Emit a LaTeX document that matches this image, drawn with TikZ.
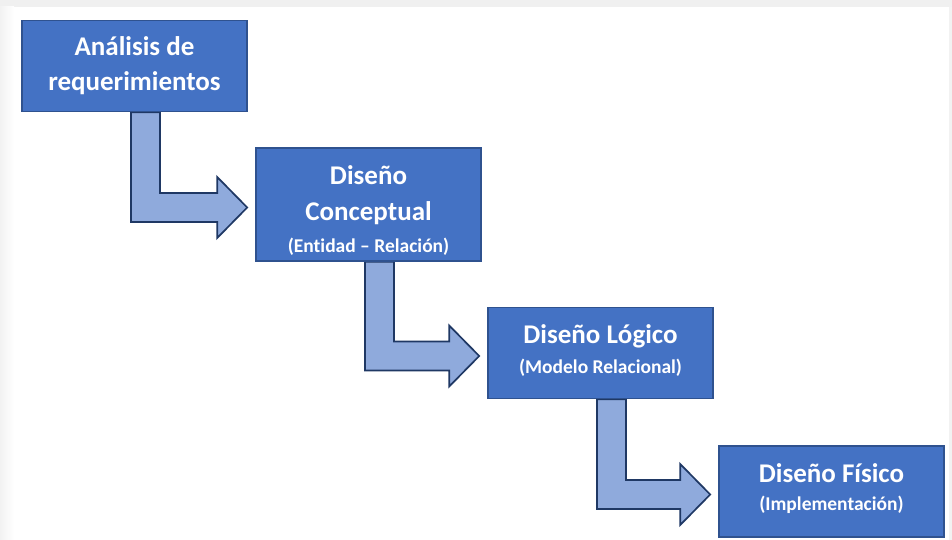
\documentclass[tikz,border=0pt]{standalone}
\usepackage{fontspec}
\setmainfont{Carlito}[Ligatures=CommonOff]
\usetikzlibrary{calc}
\definecolor{boxfill}{HTML}{4472C4}
\definecolor{boxline}{HTML}{2F528F}
\definecolor{arrfill}{HTML}{8FAADC}
\definecolor{arrline}{HTML}{1F3864}
\pgfdeclarelayer{bg}
\pgfdeclarelayer{arrows}
\pgfsetlayers{bg,arrows,main}
\tikzset{
  stage/.style={draw=boxline, line width=1.6pt, fill=boxfill, text=white,
    font=\bfseries\fontsize{27}{35}\selectfont, align=center,
    minimum width=225pt, inner sep=0pt},
  flow/.style={draw=arrline, line width=1.7pt, fill=arrfill, line join=miter}
}
\newcommand{\subtxt}[1]{{\fontsize{19.5}{24}\selectfont #1}}
\newcommand{\elbow}[2]{%
  \draw[flow] let \p1=(#1.south), \p2=(#1.center), \p3=(#2.west) in
    (\x2-3.5pt,\y1) -- (\x2+25.5pt,\y1) -- (\x2+25.5pt,\y3+11.5pt)
    -- (\x3-38pt,\y3+11.5pt) -- (\x3-38pt,\y3+27.5pt) -- (\x3-8pt,\y3-3pt)
    -- (\x3-38pt,\y3-33.5pt) -- (\x3-38pt,\y3-17.5pt) -- (\x2-3.5pt,\y3-17.5pt) -- cycle;}
\begin{document}
\begin{tikzpicture}[x=1pt,y=-1pt]
  \begin{pgfonlayer}{bg}
    \fill[white] (0,0) rectangle (952,540);
    \fill[gray!12] (0,0) rectangle (952,7);
    \shade[left color=gray!10, right color=white] (0,7) rectangle (14,540);
    \fill[gray!10] (949,7) rectangle (952,540);
  \end{pgfonlayer}
  \node[stage, minimum height=91pt] (a) at (134.5,66) {Análisis de\\requerimientos};
  \node[stage, minimum height=113pt] (b) at (368.5,204.5)
    {\rule{0pt}{30pt}Diseño\\[1pt]Conceptual\\[-3pt]\subtxt{(Entidad – Relación)}};
  \node[stage, minimum height=91pt] (c) at (600.5,353)
    {Diseño Lógico\\[-5pt]\subtxt{(Modelo Relacional)\rule[-8pt]{0pt}{1pt}}};
  \node[stage, minimum height=91pt] (d) at (831.5,491.5)
    {Diseño Físico\\[-7pt]\subtxt{(Implementación)\rule[-9pt]{0pt}{1pt}}};
  \begin{pgfonlayer}{arrows}
    \elbow{a}{b}
    \elbow{b}{c}
    \elbow{c}{d}
  \end{pgfonlayer}
\end{tikzpicture}
\end{document}
